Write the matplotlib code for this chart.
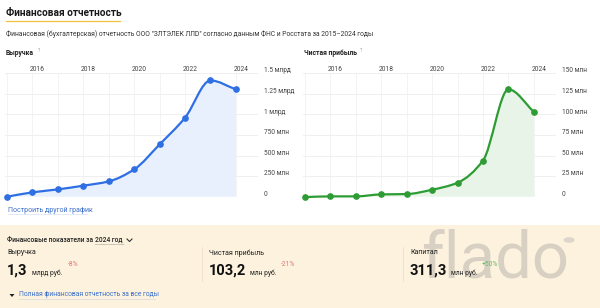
import numpy as np
import matplotlib.pyplot as plt
from matplotlib.path import Path
from matplotlib.patches import PathPatch, Rectangle, Circle, Polygon
from matplotlib.lines import Line2D

plt.rcParams['font.family'] = ['Roboto', 'DejaVu Sans']

# -------------------------
# ДАННЫЕ
# -------------------------
years = [2015, 2016, 2017, 2018, 2019, 2020, 2021, 2022, 2023, 2024]
year_labels = [2016, 2018, 2020, 2022, 2024]

revenue = [0.0, 0.053, 0.089, 0.134, 0.186, 0.332, 0.636, 0.96, 1.413, 1.305]  # млрд руб.
rev_ticks = [0, 0.25, 0.5, 0.75, 1.0, 1.25, 1.5]
rev_tick_labels = ["0", "250 млн", "500 млн", "750 млн", "1 млрд", "1.25 млрд", "1.5 млрд"]

profit = [-0.5, 0.4, 0.4, 2.8, 3.2, 8.5, 17.0, 44.0, 130.5, 103.2]  # млн руб.
prof_ticks = [0, 25, 50, 75, 100, 125, 150]
prof_tick_labels = ["0", "25 млн", "50 млн", "75 млн", "100 млн", "125 млн", "150 млн"]

W, H = 600, 308


def fx(x):
    return x / W


def fy(y):
    return 1 - y / H


def smooth_path(x, y, baseline=None):
    # монотонная кубическая кривая (Fritsch-Carlson) в виде безье
    x = np.asarray(x, float)
    y = np.asarray(y, float)
    h = np.diff(x)
    d = np.diff(y) / h
    m = np.zeros(len(x))
    m[0], m[-1] = d[0], d[-1]
    for k in range(1, len(x) - 1):
        if d[k - 1] * d[k] <= 0:
            m[k] = 0
        else:
            m[k] = 3 * (h[k - 1] + h[k]) / ((2 * h[k] + h[k - 1]) / d[k - 1] + (h[k] + 2 * h[k - 1]) / d[k])
    verts = [(x[0], y[0])]
    codes = [Path.MOVETO]
    for k in range(len(x) - 1):
        verts += [(x[k] + h[k] / 3, y[k] + m[k] * h[k] / 3),
                  (x[k + 1] - h[k] / 3, y[k + 1] - m[k + 1] * h[k] / 3),
                  (x[k + 1], y[k + 1])]
        codes += [Path.CURVE4] * 3
    if baseline is not None:
        verts += [(x[-1], baseline), (x[0], baseline), (x[0], y[0])]
        codes += [Path.LINETO, Path.LINETO, Path.CLOSEPOLY]
    return Path(verts, codes)


def chart(left_px, values, ticks, tick_labels, color, fill, title):
    ax = fig.add_axes([fx(left_px), fy(196.7), fx(253), (196.7 - 73.3) / H])
    ax.set_xlim(2014.92, 2024.87)
    ax.set_ylim(ticks[0], ticks[-1])
    for s in ax.spines.values():
        s.set_visible(False)
    ax.set_xticks([])
    ax.set_yticks([])
    for t in ticks:
        ax.axhline(t, color="#ececec", lw=0.6, zorder=0)
    for yr in years:
        ax.axvline(yr, color="#f1f1f1", lw=0.6, zorder=0)
    ax.add_patch(PathPatch(smooth_path(years, values, baseline=0), facecolor=fill,
                           edgecolor="none", zorder=1, clip_on=False))
    ax.add_patch(PathPatch(smooth_path(years, values), facecolor="none", edgecolor=color,
                           lw=1.6, zorder=2, clip_on=False, capstyle="round", joinstyle="round"))
    ax.plot(years, values, "o", color=color, ms=3.8, zorder=3, clip_on=False)
    for yl in year_labels:
        ax.text(yl + 0.2, 1.0, str(yl), transform=ax.get_xaxis_transform(), ha="center",
                va="bottom", fontsize=4.8, color="#444444")
    for t, lab in zip(ticks, tick_labels):
        ax.annotate(lab, xy=(1, t), xycoords=("axes fraction", "data"), xytext=(4, 1.7),
                    textcoords="offset points", ha="left", va="center", fontsize=4.7,
                    color="#444444")
    fig.text(fx(left_px + 1), fy(53), title, fontsize=4.9, weight="bold", color="#222222",
             va="center", ha="left")
    return ax


fig = plt.figure(figsize=(W / 100, H / 100), dpi=100)
fig.patch.set_facecolor("white")

# заголовок
fig.text(fx(6), fy(13), "Финансовая отчетность", fontsize=7.3, weight="bold",
         color="#1a1a1a", va="center", ha="left")
fig.add_artist(Line2D([fx(6), fx(120)], [fy(20.5), fy(20.5)], color="#f2c13b", lw=0.9))
fig.text(fx(6), fy(34.5),
         "Финансовая (бухгалтерская) отчетность ООО \"ЗЛТЭЛЕК ЛЛD\" согласно данным ФНС и Росстата за 2015–2024 годы",
         fontsize=4.9, color="#333333", va="center", ha="left")

chart(5, revenue, rev_ticks, rev_tick_labels, "#2f6fe4", "#e8f0fd", "Выручка")
chart(303, profit, prof_ticks, prof_tick_labels, "#2e9c34", "#e8f4e8", "Чистая прибыль")
fig.text(fx(37.5), fy(50), "?", fontsize=3.5, color="#999999", va="center")
fig.text(fx(360), fy(50), "?", fontsize=3.5, color="#999999", va="center")

fig.text(fx(8), fy(210), "Построить другой график", fontsize=5, color="#3b6fc9",
         va="center", ha="left")
fig.add_artist(Line2D([fx(8), fx(88)], [fy(214), fy(214)], color="#9bb5e0", lw=0.4,
                      linestyle=(0, (1, 1))))

# нижняя панель
fig.patches.append(Rectangle((0, 0), 1, fy(225), transform=fig.transFigure,
                             facecolor="#fcf2de", edgecolor="none", zorder=-1))

fig.text(fx(421), fy(259), "flado", fontsize=47, color="#cdc5ba", alpha=0.75,
         va="center", ha="left", zorder=0)
fig.patches.append(Circle((fx(569), fy(240)), 5.5 / W, transform=fig.transFigure,
                          facecolor="#d6cfc5", edgecolor="none", alpha=0.8))

fig.text(fx(7), fy(240), "Финансовые показатели за", fontsize=4.8, weight="medium",
         color="#222222", va="center", ha="left")
fig.text(fx(95), fy(240), "2024 год", fontsize=4.8, weight="medium",
         color="#222222", va="center", ha="left")
fig.add_artist(Line2D([fx(95), fx(124)], [fy(244), fy(244)], color="#555555", lw=0.4,
                      linestyle=(0, (1, 1))))
fig.add_artist(Line2D([fx(127), fx(129.5), fx(132)], [fy(239), fy(241.5), fy(239)],
                      color="#333333", lw=0.8))

blocks = [
    (7, "Выручка", "1,3", "млрд руб.", "-8%", "#e07474", 32, 68),
    (209, "Чистая прибыль", "103,2", "млн руб.", "-21%", "#e07474", 250, 281),
    (410, "Капитал", "311,3", "млн руб.", "+50%", "#62bb63", 451, 482),
]
for x0, name, big, unit, pct, pcol, ux, px_ in blocks:
    fig.text(fx(x0), fy(253), name, fontsize=5.1, color="#222222", va="center", ha="left")
    fig.text(fx(x0), fy(271), big, fontsize=10.5, weight="bold", color="#111111",
             va="center", ha="left")
    fig.text(fx(ux), fy(273), unit, fontsize=4.8, color="#222222", va="center", ha="left")
    fig.text(fx(px_), fy(264), pct, fontsize=4.8, color=pcol, va="center", ha="left")

for sx in (201.5, 403):
    fig.add_artist(Line2D([fx(sx), fx(sx)], [fy(247), fy(281)], color="#ece0c8", lw=0.6))

fig.add_artist(Polygon([(fx(9.5), fy(294)), (fx(14.5), fy(294)), (fx(12), fy(297))],
                       closed=True, transform=fig.transFigure, facecolor="#222222",
                       edgecolor="none"))
fig.text(fx(19), fy(295), "Полная финансовая отчетность за все годы", fontsize=4.9,
         color="#3b6fc9", va="center", ha="left")
fig.add_artist(Line2D([fx(19), fx(155)], [fy(299), fy(299)], color="#9bb5e0", lw=0.4,
                      linestyle=(0, (1, 1))))

fig.savefig("out.png", dpi=100)
